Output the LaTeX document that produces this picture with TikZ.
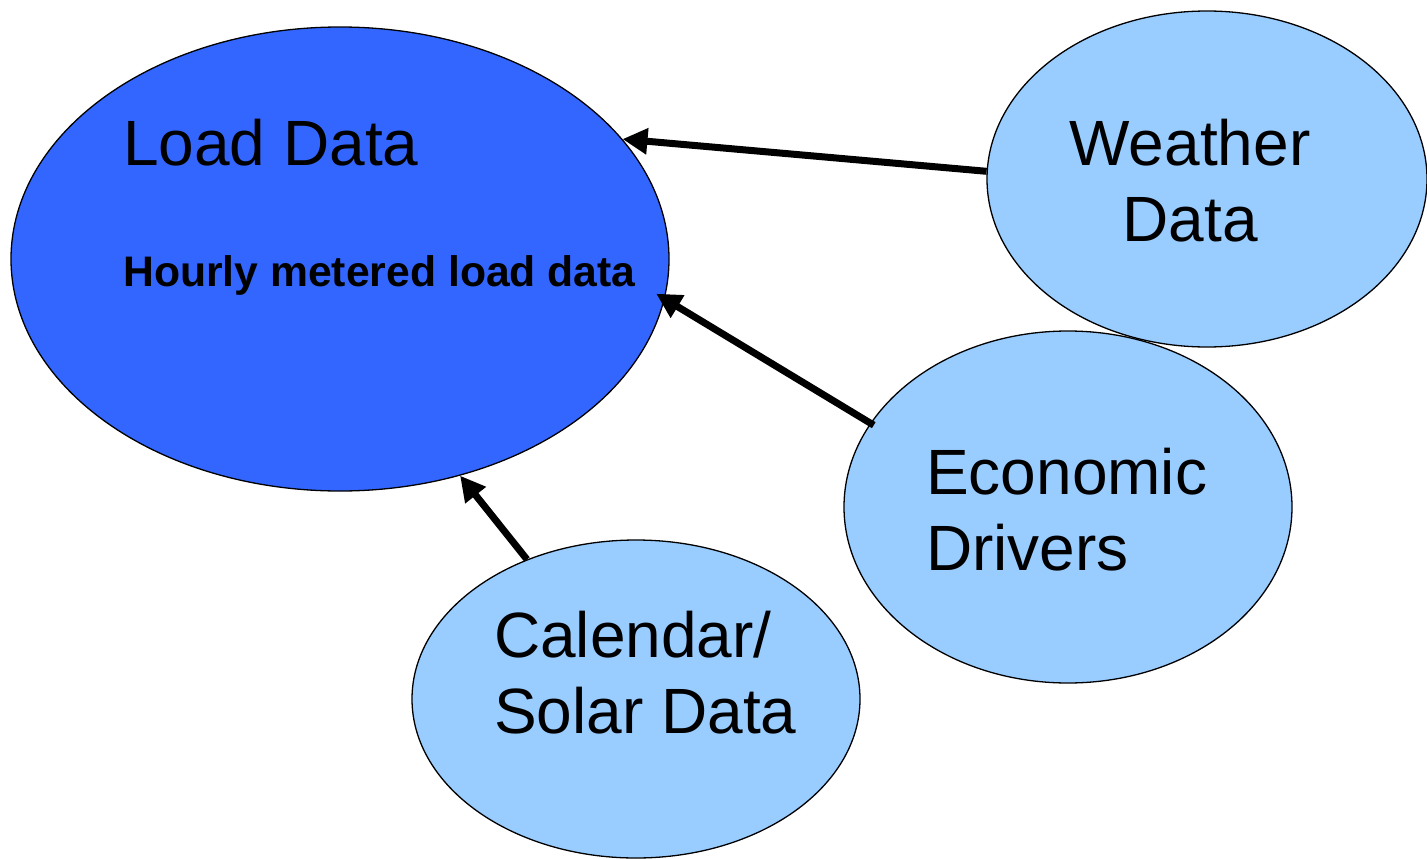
\documentclass[tikz,border=0pt]{standalone}
\usepackage{fontspec}
\setmainfont{Liberation Sans}
\usetikzlibrary{arrows.meta,shapes.geometric}
\definecolor{loadblue}{HTML}{3366FF}
\definecolor{lightblue}{HTML}{99CCFF}
\begin{document}
\begin{tikzpicture}[x=1pt,y=-1pt,
  blob/.style={ellipse,draw=black,line width=1.3pt,inner sep=0pt},
  big/.style={font=\fontsize{64}{76}\selectfont,inner sep=0pt},
  feed/.style={line width=7pt,-{Triangle[length=25pt,width=25pt]}}]
\useasboundingbox (0,0) rectangle (1427,859);
\node[blob,fill=loadblue,minimum width=658pt,minimum height=464pt] (load) at (340,259) {};
\node[blob,fill=lightblue,minimum width=440pt,minimum height=336pt] (weather) at (1207,179) {};
\node[blob,fill=lightblue,minimum width=448pt,minimum height=352pt] (econ) at (1068,507) {};
\node[blob,fill=lightblue,minimum width=448pt,minimum height=318pt] (cal) at (636,699) {};
\node[big,anchor=base west] (loadtxt) at (123,165) {Load Data};
\node[font=\fontsize{42.7}{50}\selectfont\bfseries,inner sep=0pt,anchor=base west] (hourly) at (123,286) {Hourly metered load data};
\node[big,align=center,anchor=base] (weathertxt) at (1190,241) {Weather\\Data};
\node[big,align=left,anchor=base west] (econtxt) at (926,570) {Economic\\Drivers};
\node[big,align=left,anchor=base west] (caltxt) at (494,733) {Calendar/\\Solar Data};
\draw[feed] (weather.178.2) -- (load.23.1);
\draw[feed,shorten >=-10pt,shorten <=-4pt] (econ.157.2) -- (load.-7.6);
\draw[feed] (cal.128.1) -- (load.-61);
\end{tikzpicture}
\end{document}
